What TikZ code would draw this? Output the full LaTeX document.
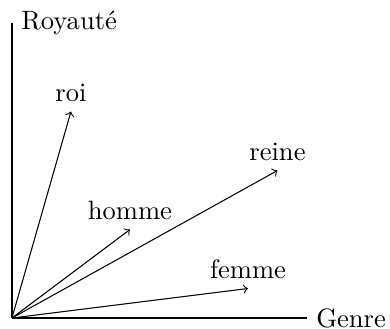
\documentclass[tikz,border=0pt]{standalone}
\begin{document}
\begin{tikzpicture}[x=0.781cm, y=0.781cm]

  \useasboundingbox (-0.203, -0.17) rectangle (6.407, 5.39);

  % -- Axes --
  \coordinate (O) at (0, 0);
  \node[right, inner sep=0pt, xshift=3.33pt] (genre) at (5, 0) {Genre};
  \node[right] (royaute) at (0, 5) {Royauté};
  \draw (O) -- (5, 0);
  \draw (O) -- (royaute.west);

  % -- Word vectors --
  \node[above] (roi) at (1, 3.5) {roi};
  \node[above] (reine) at (4.5, 2.5) {reine};
  \node[above] (homme) at (2, 1.5) {homme};
  \node[above] (femme) at (4, 0.5) {femme};

  \draw[->] (O) -- (roi.south);
  \draw[->] (O) -- (reine.south);
  \draw[->] (O) -- (homme.south);
  \draw[->] (O) -- (femme.south);

\end{tikzpicture}
\end{document}
